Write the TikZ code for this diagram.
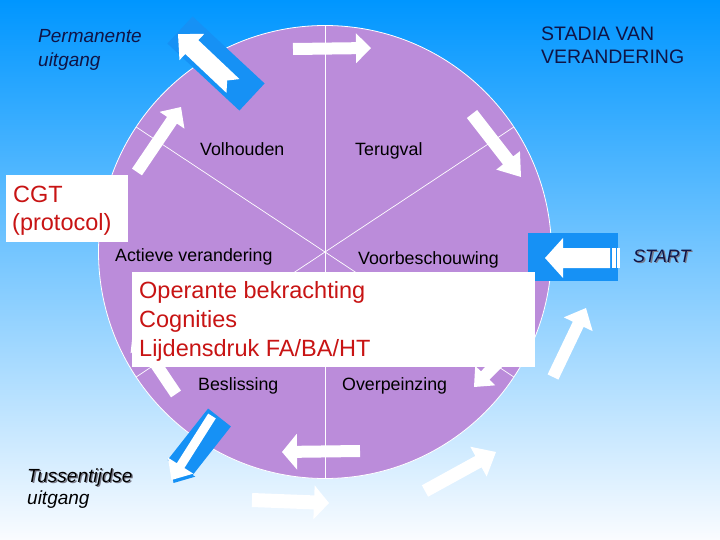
\documentclass[tikz,border=0pt]{standalone}
\usepackage{fontspec}
\setmainfont{Liberation Sans}
\definecolor{bgtop}{RGB}{0,150,255}
\definecolor{bgbot}{RGB}{250,252,255}
\definecolor{lav}{RGB}{187,140,218}
\definecolor{barblue}{RGB}{22,145,245}
\definecolor{navy}{RGB}{15,20,70}
\definecolor{redtxt}{RGB}{200,20,20}
\definecolor{shadowgray}{RGB}{120,120,135}
% block arrow: tail x,y ; tip x,y ; shaft half width ; head half width ; head length ; tail notch ; fill style
\newcommand\blockarr[9]{%
  \pgfmathsetmacro\baang{atan2(-((#4)-(#2)),(#3)-(#1))}%
  \pgfmathsetmacro\balen{veclen((#3)-(#1),(#4)-(#2))}%
  \pgfmathsetmacro\babase{\balen-(#7)}%
  \fill[#9,shift={(#1,#2)},rotate=\baang] (0,-#5) -- (\babase,-#5) -- (\babase,-#6) -- (\balen,0) -- (\babase,#6) -- (\babase,#5) -- (0,#5) -- (#8,0) -- cycle;%
}
\begin{document}
\begin{tikzpicture}[x=1pt,y=-1pt,
  lbl/.style={anchor=base west, inner sep=0pt, font=\fontsize{17.8}{20}\selectfont, text=black},
  navytxt/.style={anchor=base west, inner sep=0pt, text=navy},
  redlbl/.style={anchor=base west, inner sep=0pt, font=\fontsize{23.5}{28}\selectfont, text=redtxt},
  whitebox/.style={fill=white, draw=none, inner sep=0pt, anchor=north west},
  divider/.style={white, line width=0.7pt}]
\useasboundingbox (0,0) rectangle (720,540);
\shade[top color=bgtop, bottom color=bgbot] (0,0) rectangle (720,540);

% wheel
\coordinate (c) at (325,252);
\fill[lav, draw=white, line width=0.8pt] (c) circle[radius=226.5pt];
\draw[divider] (c) ++(0,-226.5) -- ++(0,453);
\draw[divider] (c) ++(146.5:226.5pt) -- ++(-33.5:453pt);
\draw[divider] (c) ++(33.5:226.5pt) -- ++(-146.5:453pt);

% cycle arrows
\blockarr{293}{49}{371}{48}{6}{15}{15}{0}{white}
\blockarr{472}{114}{521}{177}{6.5}{15}{21}{0}{white}
\blockarr{553}{377}{586}{308}{6}{16}{18}{0}{white}
\blockarr{425}{491}{496}{452}{6.5}{17}{20}{0}{white}
\blockarr{252}{500}{329}{503}{7}{17}{15}{0}{white}
\blockarr{360}{451}{282}{452}{6}{18}{15}{0}{white}
\blockarr{176}{394}{133}{330}{6}{15}{18}{0}{white}
\blockarr{522}{338}{474}{387}{6}{14}{16}{0}{white}
\blockarr{137}{172}{181}{107}{6}{15}{16}{0}{white}

% permanent exit
\blockarr{252}{97}{180}{30}{18.5}{18.5}{0}{0}{barblue}
\blockarr{233}{86}{178}{34}{9.5}{18}{19}{8}{white}

% intermediate exit
\blockarr{219.5}{417.5}{179}{469}{14.5}{14.5}{0}{0}{barblue}
\blockarr{214}{419}{173.5}{483}{4.5}{15}{17}{0}{barblue}
\blockarr{212}{416}{171.5}{480}{4.5}{15}{17}{0}{white}

% start arrow
\fill[barblue] (528,233) rectangle (618,281);
\blockarr{610}{258}{545}{258}{10}{20}{18}{0}{white}
\fill[white] (612,248) rectangle (615.5,268);
\fill[white] (617,248) rectangle (619.5,268);

% stage labels
\node[lbl] (volh) at (200,156) {Volhouden};
\node[lbl] (terug) at (355,156) {Terugval};
\node[lbl] (actief) at (115,261) {Actieve verandering};
\node[lbl] (voorb) at (358,264) {Voorbeschouwing};
\node[lbl] (besl) at (198,390) {Beslissing};
\node[lbl] (overp) at (342,390) {Overpeinzing};

% corner texts
\node[navytxt, font=\fontsize{19}{22}\selectfont\itshape] (perm1) at (38,43) {Permanente};
\node[navytxt, font=\fontsize{19}{22}\selectfont\itshape] (perm2) at (38,66.5) {uitgang};
\node[navytxt, font=\fontsize{19.5}{22}\selectfont] (stad1) at (541,40.5) {STADIA VAN};
\node[navytxt, font=\fontsize{19.5}{22}\selectfont] (stad2) at (541,64) {VERANDERING};
\node[anchor=base west, inner sep=0pt, text=shadowgray, font=\fontsize{18}{22}\selectfont\itshape] (startsh) at (634.3,263.3) {START};
\node[navytxt, font=\fontsize{18}{22}\selectfont\itshape] (start) at (633,262) {START};
\node[anchor=base west, inner sep=0pt, text=shadowgray, font=\fontsize{19}{22}\selectfont\itshape] (tus1sh) at (28.3,483.3) {Tussentijdse};
\node[anchor=base west, inner sep=0pt, text=black, font=\fontsize{19}{22}\selectfont\itshape] (tus1) at (27,482) {Tussentijdse};
\node[anchor=base west, inner sep=0pt, text=black, font=\fontsize{19}{22}\selectfont\itshape] (tus2) at (27,504) {uitgang};

% CGT box
\node[whitebox, minimum width=122pt, minimum height=67pt] (cgtbox) at (6,175) {};
\node[redlbl] (cgt1) at (13,203) {CGT};
\node[redlbl] (cgt2) at (12,230) {(protocol)};

% technique box
\node[whitebox, minimum width=403pt, minimum height=95pt] (techbox) at (132,272) {};
\node[redlbl] (tech1) at (139,298) {Operante bekrachting};
\node[redlbl] (tech2) at (139,327) {Cognities};
\node[redlbl] (tech3) at (139,356) {Lijdensdruk FA/BA/HT};
\end{tikzpicture}
\end{document}
